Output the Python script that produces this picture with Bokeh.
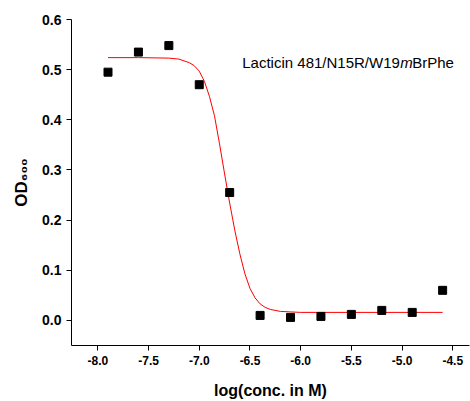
from bokeh.plotting import figure
from bokeh.models import FixedTicker, PrintfTickFormatter, Label, Range1d
from bokeh.embed import file_html
from bokeh.resources import INLINE

# measured data points
log_conc = [-7.90, -7.60, -7.30, -7.00, -6.70, -6.40, -6.10, -5.80, -5.50, -5.20, -4.90, -4.60]
od600 = [0.495, 0.535, 0.548, 0.470, 0.255, 0.010, 0.006, 0.008, 0.012, 0.020, 0.016, 0.060]

# fitted curve
fit_x = [-7.90, -7.60, -7.30, -7.20, -7.10, -7.05, -7.00, -6.95, -6.90, -6.85, -6.80,
         -6.75, -6.70, -6.65, -6.60, -6.55, -6.50, -6.45, -6.40, -6.35, -6.30, -6.20,
         -6.10, -6.00, -5.50, -5.00, -4.60]
fit_y = [0.524, 0.524, 0.523, 0.521, 0.514, 0.508, 0.497, 0.477, 0.447, 0.408, 0.352,
         0.292, 0.234, 0.180, 0.133, 0.093, 0.064, 0.045, 0.033, 0.026, 0.022, 0.018,
         0.017, 0.016, 0.016, 0.016, 0.016]

x_ticks = [-8.0, -7.5, -7.0, -6.5, -6.0, -5.5, -5.0, -4.5]
y_ticks = [0.0, 0.1, 0.2, 0.3, 0.4, 0.5, 0.6]

FONT = "Liberation Sans"

p = figure(width=470, height=401, output_backend="svg", toolbar_location=None,
           x_range=Range1d(-8.26, -4.335), y_range=Range1d(-0.05, 0.6),
           min_border_left=71, min_border_right=1, min_border_top=19, min_border_bottom=56)
p.outline_line_color = None
p.xgrid.visible = False
p.ygrid.visible = False
p.background_fill_color = "white"
p.border_fill_color = "white"

p.line(fit_x, fit_y, line_color="red", line_width=1)
p.scatter(log_conc, od600, marker="square", size=8, fill_color="black", line_color="black")

for ax in (p.xaxis[0], p.yaxis[0]):
    ax.axis_line_color = "black"
    ax.axis_line_width = 1
    ax.major_tick_line_color = "black"
    ax.major_tick_in = 0
    ax.major_tick_out = 5
    ax.minor_tick_line_color = None
    ax.major_label_text_font = FONT
    ax.major_label_text_font_style = "bold"
    ax.major_label_text_color = "black"
    ax.formatter = PrintfTickFormatter(format="%.1f")
    ax.axis_label_text_font = FONT
    ax.axis_label_text_font_style = "bold"
    ax.axis_label_text_font_size = "16px"
    ax.axis_label_text_color = "black"

p.xaxis.ticker = FixedTicker(ticks=x_ticks)
p.yaxis.ticker = FixedTicker(ticks=y_ticks)
p.xaxis.major_label_text_font_size = "12px"
p.yaxis.major_label_text_font_size = "14px"
p.xaxis.major_label_standoff = 5
p.yaxis.major_label_standoff = 5

p.xaxis.axis_label = "log(conc. in M)"
p.xaxis.axis_label_standoff = 14

p.yaxis.axis_label = "OD\u2086\u2080\u2080"
p.yaxis.axis_label_text_font_size = "17px"
p.yaxis.axis_label_standoff = 8

# annotation text
tx, ty = -6.576, 0.515
p.add_layout(Label(x=tx, y=ty, text="Lacticin 481/N15R/W19", text_font=FONT,
                   text_font_size="15px", text_align="left", text_baseline="alphabetic",
                   text_color="black"))
p.add_layout(Label(x=tx, y=ty, x_offset=158, text="m", text_font=FONT,
                   text_font_style="italic", text_font_size="15px", text_align="left",
                   text_baseline="alphabetic", text_color="black"))
p.add_layout(Label(x=tx, y=ty, x_offset=170, text="BrPhe", text_font=FONT,
                   text_font_size="15px", text_align="left", text_baseline="alphabetic",
                   text_color="black"))

open("out.html", "w").write(file_html(p, INLINE))
